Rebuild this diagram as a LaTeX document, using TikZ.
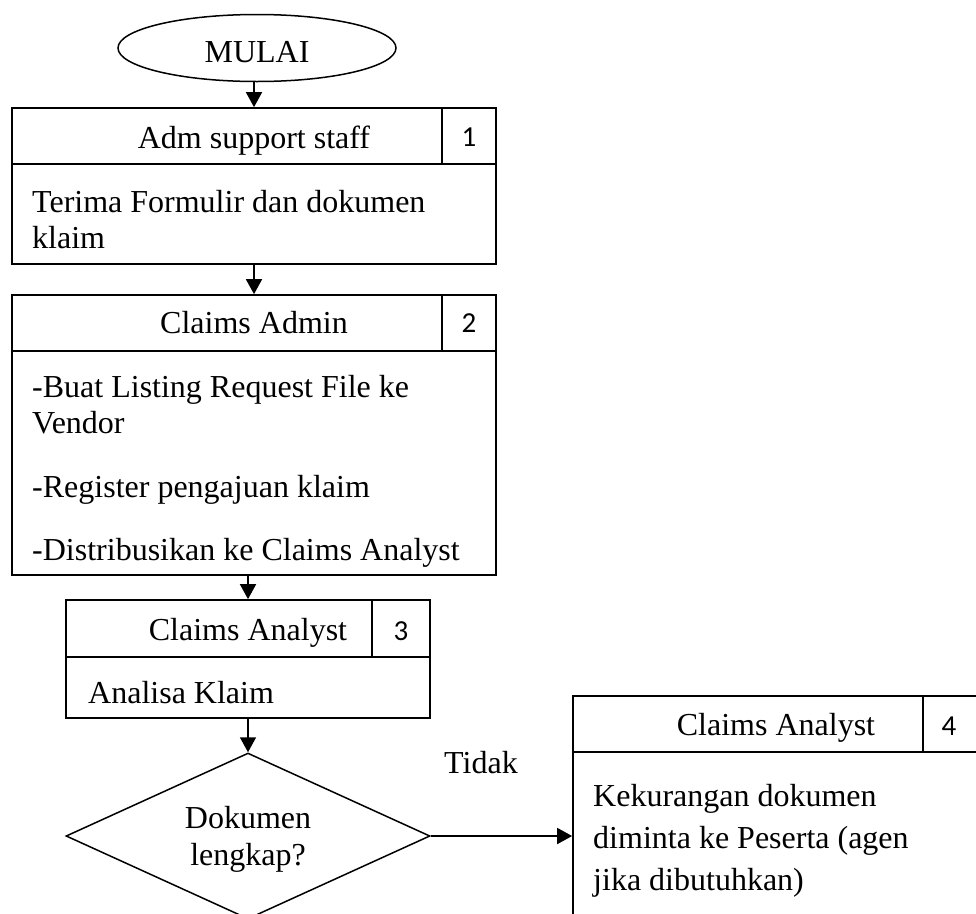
\documentclass[tikz,border=0pt]{standalone}
\usepackage{fontspec}
\setmainfont{Liberation Serif}
\newfontfamily\digitfont{Carlito}
\usetikzlibrary{shapes.geometric,arrows.meta}
\begin{document}
\begin{tikzpicture}[x=1pt,y=-1pt,
  box/.style={draw,line width=1.7pt,rectangle,inner sep=0pt},
  txt/.style={inner sep=0pt,anchor=base west,font=\fontsize{32}{36}\selectfont},
  ctxt/.style={inner sep=0pt,anchor=base,font=\fontsize{32}{36}\selectfont},
  num/.style={inner sep=0pt,anchor=base,font=\digitfont\fontsize{29}{32}\selectfont},
  arr/.style={line width=1.7pt,-{Triangle[length=15pt,width=16pt]}},
  ln/.style={line width=1.7pt}]
\useasboundingbox (0,0) rectangle (976,913);
\clip (0,0) rectangle (976,913);
% start
\node[draw,ellipse,line width=1.5pt,inner sep=0pt,minimum width=278pt,minimum height=67pt] (ell) at (257,48) {};
\node[ctxt] (tell) at (257,62) {MULAI};
% box 1
\node[box,minimum width=484pt,minimum height=156pt] (b1) at (254,186) {};
\draw[ln] (12,164) -- (496,164);
\draw[ln] (442,108) -- (442,164);
\node[ctxt] (h1) at (254,148) {Adm support staff};
\node[num] (n1) at (469,146) {1};
\node[txt] (t1a) at (32,212) {Terima Formulir dan dokumen};
\node[txt] (t1b) at (32,248) {klaim};
% box 2
\node[box,minimum width=484pt,minimum height=280pt] (b2) at (254,435) {};
\draw[ln] (12,351) -- (496,351);
\draw[ln] (442,295) -- (442,351);
\node[ctxt] (h2) at (254,333) {Claims Admin};
\node[num] (n2) at (469,332) {2};
\node[txt] (t2a) at (32,397) {-Buat Listing Request File ke};
\node[txt] (t2b) at (32,433) {Vendor};
\node[txt] (t2c) at (32,497) {-Register pengajuan klaim};
\node[txt] (t2d) at (32,560) {-Distribusikan ke Claims Analyst};
% box 3
\node[box,minimum width=364pt,minimum height=118pt] (b3) at (248,659) {};
\draw[ln] (66,657) -- (430,657);
\draw[ln] (372,600) -- (372,657);
\node[ctxt] (h3) at (248,640) {Claims Analyst};
\node[num] (n3) at (401,640) {3};
\node[txt] (t3a) at (88,703) {Analisa Klaim};
% decision
\node[draw,diamond,line width=1.5pt,inner sep=0pt,minimum width=364pt,minimum height=166pt] (dia) at (248,836) {};
\node[ctxt] (d1) at (248,828) {Dokumen};
\node[ctxt] (d2) at (248,865) {lengkap?};
% box 4
\node[box,minimum width=407pt,minimum height=244pt] (b4) at (776.5,818) {};
\draw[ln] (573,752) -- (980,752);
\draw[ln] (923,696) -- (923,752);
\node[ctxt] (h4) at (776,735) {Claims Analyst};
\node[num] (n4) at (949,735) {4};
\node[txt] (t4a) at (593,806) {Kekurangan dokumen};
\node[txt] (t4b) at (593,848) {diminta ke Peserta (agen};
\node[txt] (t4c) at (593,890) {jika dibutuhkan)};
% label
\node[ctxt] (tidak) at (481,773) {Tidak};
% connectors
\draw[arr] (b1.north |- ell.south) -- (b1.north);
\draw[arr] (b1.south) -- (b2.north);
\draw[arr] (b2.south -| b3.north) -- (b3.north);
\draw[arr] (b3.south) -- (dia.north);
\draw[arr] (dia.east) -- (dia.east -| b4.west);
\end{tikzpicture}
\end{document}
